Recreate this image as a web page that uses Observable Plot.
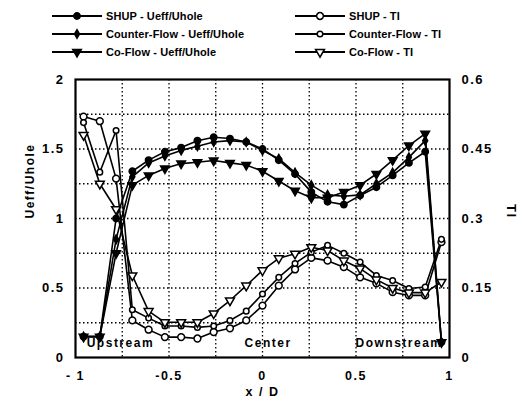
<!DOCTYPE html>
<html>
<head>
<meta charset="utf-8">
<script src="https://cdn.jsdelivr.net/npm/d3@7"></script>
<script src="https://cdn.jsdelivr.net/npm/@observablehq/plot@0.6"></script>
<style>
  html, body { margin: 0; padding: 0; background: #fff; }
  #wrap { width: 522px; height: 403px; position: relative; overflow: hidden; }
  #legend { position: relative; width: 522px; height: 62px; font-family: "Liberation Sans", Arial, sans-serif; font-weight: bold; font-size: 11px; }
  .item { position: absolute; display: flex; align-items: center; height: 16px; }
  .item svg { display: block; }
  .item span { margin-left: 4px; white-space: nowrap; letter-spacing: 0.1px; }
</style>
</head>
<body>
<div id="wrap">
  <div id="legend"></div>
  <div id="chart"></div>
</div>
<script>
// ---- data ----
const xPos = [-0.957, -0.870, -0.783, -0.696, -0.609, -0.522, -0.435, -0.348, -0.261, -0.174, -0.087, 0, 0.087, 0.174, 0.261, 0.348, 0.435, 0.522, 0.609, 0.696, 0.783, 0.870, 0.957];

const shupU    = [0.15, 0.15, 1.00, 1.34, 1.42, 1.48, 1.51, 1.56, 1.585, 1.575, 1.55, 1.50, 1.42, 1.32, 1.19, 1.12, 1.10, 1.165, 1.225, 1.31, 1.40, 1.48, 0.11];
const counterU = [0.15, 0.15, 0.85, 1.30, 1.40, 1.45, 1.49, 1.52, 1.55, 1.56, 1.55, 1.49, 1.43, 1.33, 1.24, 1.17, 1.16, 1.17, 1.25, 1.33, 1.44, 1.56, 0.11];
const coU      = [0.15, 0.15, 0.75, 1.24, 1.31, 1.36, 1.395, 1.405, 1.417, 1.40, 1.385, 1.34, 1.27, 1.20, 1.15, 1.15, 1.19, 1.24, 1.32, 1.42, 1.525, 1.61, 0.11];

const shupTI    = [0.52, 0.51, 0.386, 0.08, 0.06, 0.044, 0.044, 0.041, 0.055, 0.063, 0.08, 0.112, 0.155, 0.19, 0.215, 0.209, 0.195, 0.173, 0.16, 0.141, 0.134, 0.134, 0.249];
const counterTI = [0.507, 0.40, 0.49, 0.103, 0.085, 0.068, 0.068, 0.065, 0.068, 0.08, 0.10, 0.137, 0.173, 0.203, 0.227, 0.242, 0.225, 0.206, 0.177, 0.166, 0.149, 0.152, 0.255];
const coTI      = [0.48, 0.375, 0.32, 0.177, 0.10, 0.076, 0.076, 0.076, 0.095, 0.123, 0.155, 0.188, 0.214, 0.224, 0.238, 0.231, 0.209, 0.192, 0.168, 0.15, 0.14, 0.14, 0.163];

const seriesNames = ["SHUP - Ueff/Uhole", "Counter-Flow - Ueff/Uhole", "Co-Flow - Ueff/Uhole", "SHUP - TI", "Counter-Flow - TI", "Co-Flow - TI"];

const xTicks = [-1, -0.5, 0, 0.5, 1];
const xTickLabels = ["- 1", "-0.5", "0", "0.5", "1"];
const yTicks = [0, 0.5, 1, 1.5, 2];
const yTickLabels = ["0", "0.5", "1", "1.5", "2"];
const tiTickLabels = ["0", "0.15", "0.3", "0.45", "0.6"];
const tiMax = 0.6;
const uMax = 2;
const gridX = [-0.75, -0.5, -0.25, 0, 0.25, 0.5, 0.75];
const gridY = [0.25, 0.5, 0.75, 1, 1.25, 1.5, 1.75];

const regionLabels = ["Upstream", "Center", "Downstream"];
const regionX = [-0.76, 0.03, 0.73];
const regionY = [0.1, 0.1, 0.1];

// ---- build tables ----
const toRows = (vals, scale) => xPos.map((x, i) => ({x, y: vals[i] * scale}));
const tiScale = uMax / tiMax;
const S = {
  shupU: toRows(shupU, 1), counterU: toRows(counterU, 1), coU: toRows(coU, 1),
  shupTI: toRows(shupTI, tiScale), counterTI: toRows(counterTI, tiScale), coTI: toRows(coTI, tiScale)
};
const styles = [
  {key: "shupU", symbol: "circle", r: 3.2, fill: "black", rotate: 0},
  {key: "counterU", symbol: "diamond", r: 2.6, fill: "black", rotate: 0},
  {key: "coU", symbol: "triangle", r: 3.2, fill: "black", rotate: 180},
  {key: "shupTI", symbol: "circle", r: 3.4, fill: "white", rotate: 0},
  {key: "counterTI", symbol: "circle", r: 2.8, fill: "white", rotate: 0},
  {key: "coTI", symbol: "triangle", r: 3.3, fill: "white", rotate: 180}
];

const marks = [
  Plot.ruleX(gridX, {stroke: "black", strokeWidth: 1.3, strokeDasharray: "1.5,2.5"}),
  Plot.ruleY(gridY, {stroke: "black", strokeWidth: 1.3, strokeDasharray: "1.5,2.5"}),
];
for (const s of styles) marks.push(Plot.line(S[s.key], {x: "x", y: "y", stroke: "black", strokeWidth: 1.6}));
for (const s of styles) marks.push(Plot.dot(S[s.key], {x: "x", y: "y", symbol: () => s.symbol, r: s.r, fill: s.fill, stroke: "black", strokeWidth: 1.5, rotate: s.rotate}));
marks.push(
  Plot.text(regionLabels.map((t, i) => ({t, x: regionX[i], y: regionY[i]})), {x: "x", y: "y", text: "t", fontSize: 12, fontWeight: "bold", fill: "black", style: "letter-spacing:2.4px"}),
  Plot.frame({stroke: "black", strokeWidth: 2.2}),
  Plot.axisX(xTicks, {tickSize: 0, tickPadding: 14, tickFormat: (d, i) => xTickLabels[i], fontSize: 12.5, fontWeight: "bold", label: null}),
  Plot.axisY(yTicks, {anchor: "left", tickSize: 0, tickPadding: 11, tickFormat: (d, i) => yTickLabels[i], fontSize: 13, fontWeight: "bold", label: null}),
  Plot.axisY(yTicks, {anchor: "right", tickSize: 0, tickPadding: 12, tickFormat: (d, i) => tiTickLabels[i], fontSize: 13, fontWeight: "bold", label: null}),
  Plot.text(["x / D"], {frameAnchor: "bottom", dy: 38, fontSize: 12.5, fontWeight: "bold"}),
  Plot.text(["Ueff/Uhole"], {frameAnchor: "left", dx: -45, rotate: -90, fontSize: 12, fontWeight: "bold"}),
  Plot.text(["TI"], {frameAnchor: "right", dx: 62, rotate: 90, fontSize: 13, fontWeight: "bold"})
);

const chart = Plot.plot({
  width: 522,
  height: 341,
  marginLeft: 75,
  marginRight: 73,
  marginTop: 17,
  marginBottom: 46,
  x: {domain: [-1, 1]},
  y: {domain: [0, uMax]},
  style: {fontFamily: "'Liberation Sans', Arial, sans-serif", fontWeight: "bold", letterSpacing: "1.5px", color: "black", background: "white"},
  marks
});
document.getElementById("chart").appendChild(chart);

// ---- legend ----
const legend = document.getElementById("legend");
const legendPos = [
  {left: 52, top: 8}, {left: 52, top: 26}, {left: 52, top: 44},
  {left: 295, top: 8}, {left: 295, top: 26}, {left: 295, top: 44}
];
const symPath = (s) => {
  const sym = {circle: d3.symbolCircle, diamond: d3.symbolDiamond, triangle: d3.symbolTriangle}[s.symbol];
  const area = Math.PI * s.r * s.r;
  return d3.symbol(sym, area)();
};
styles.forEach((s, i) => {
  const div = document.createElement("div");
  div.className = "item";
  div.style.left = legendPos[i].left + "px";
  div.style.top = legendPos[i].top + "px";
  const w = 50;
  div.innerHTML = `<svg width="${w}" height="16"><line x1="0" x2="${w}" y1="8" y2="8" stroke="black" stroke-width="2.2"/>` +
    `<path d="${symPath(s)}" transform="translate(${w / 2},8) rotate(${s.rotate})" fill="${s.fill}" stroke="black" stroke-width="1.5"/></svg>` +
    `<span>${seriesNames[i]}</span>`;
  legend.appendChild(div);
});
</script>
</body>
</html>
